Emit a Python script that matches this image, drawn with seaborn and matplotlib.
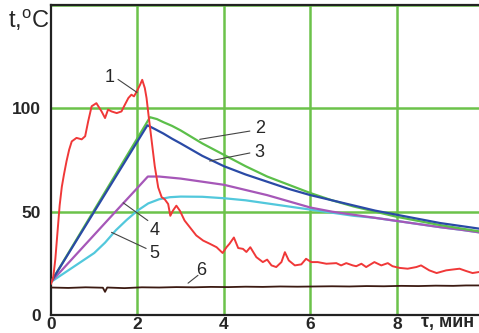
#!/usr/bin/env python

import pandas as pd
import matplotlib
matplotlib.use("Agg")
import matplotlib.pyplot as plt
import seaborn as sns

# curve 1: red, measured (noisy)
t1 = [0, 0.05, 0.1, 0.15, 0.2, 0.25, 0.3, 0.36, 0.42, 0.48, 0.59, 0.71, 0.79, 0.86, 0.94,
      1.05, 1.17, 1.25, 1.32, 1.40, 1.52, 1.63, 1.71, 1.79, 1.86, 1.92, 1.98, 2.06, 2.11,
      2.17, 2.21, 2.26, 2.33, 2.40, 2.48, 2.56, 2.63, 2.71, 2.76, 2.82, 2.90, 2.98, 3.09,
      3.21, 3.36, 3.52, 3.67, 3.83, 3.97, 4.06, 4.13, 4.23, 4.33, 4.44, 4.52, 4.61, 4.75,
      4.90, 5.0, 5.10, 5.21, 5.33, 5.41, 5.50, 5.64, 5.79, 5.90, 6.02, 6.17, 6.37, 6.6,
      6.71, 6.83, 6.98, 7.06, 7.18, 7.29, 7.48, 7.64, 7.79, 7.9, 8.06, 8.25, 8.45, 8.56,
      8.75, 8.92, 9.14, 9.29, 9.45, 9.6, 9.75, 9.9]
T1 = [15, 18, 27, 40, 53, 62, 68, 74.5, 80, 84, 85.7, 85, 86.5, 93.7, 101,
      102.5, 98.5, 95.3, 99.4, 98.5, 97.7, 98.5, 101.8, 105, 106.6, 105.8, 108, 111.4, 113.8,
      109.8, 105, 96, 84, 72, 61.7, 57, 56, 53.7, 48, 50.5, 52.9, 50.5, 45.7,
      42.5, 38.5, 36, 34.5, 32.8, 30, 32.8, 34.5, 37.5, 32.4, 32, 30.5, 32.8, 28,
      25.6, 26.8, 24, 23.2, 25.6, 30.4, 26.4, 24, 24.5, 27.2, 25.6, 25.6, 24.8, 25.1,
      24, 25.1, 24, 23.6, 24.8, 23.2, 25.6, 24, 25.1, 23.6, 22.8, 22.4, 23.2, 24,
      21.6, 20.3, 21.6, 22, 22.4, 21.3, 20.3, 20.8]

# curves 2..5: calculated
tc = [0, 0.5, 1.0, 1.5, 2.0, 2.29, 2.45, 2.6, 2.8, 3.0, 3.5, 4.0, 4.5, 5.0, 5.5, 6.0, 6.5,
      7.0, 7.5, 8.0, 8.5, 9.0, 9.5, 9.9]
T2 = [16, 33.4, 50.8, 68.2, 85.6, 95.7, 94.8, 93.3, 91.5, 89.3, 83, 77.5, 72, 67, 63, 59, 55.5,
      52.5, 50, 47.5, 45.5, 43.5, 41.8, 40.5]
t3 = [0, 0.5, 1.0, 1.5, 2.0, 2.23, 2.4, 2.6, 2.8, 3.0, 3.5, 4.0, 4.5, 5.0, 5.5, 6.0, 6.5,
      7.0, 7.5, 8.0, 8.5, 9.0, 9.5, 9.9]
T3 = [16, 33, 50, 67, 84, 91.8, 90, 87.8, 85.3, 83, 77, 72, 68, 64.5, 61, 58, 55.5,
      53, 50.5, 48.5, 46.5, 44.5, 43, 41.8]
t4 = [0, 0.5, 1.0, 1.5, 2.0, 2.24, 2.5, 3.0, 3.5, 4.0, 4.5, 5.0, 5.5, 6.0, 6.5,
      7.0, 7.5, 8.0, 8.5, 9.0, 9.5, 9.9]
T4 = [16, 27.4, 38.8, 50.2, 61.5, 67, 67, 66, 64.5, 63, 60.5, 58, 55, 52, 50,
      48.5, 47, 45.5, 44, 42.5, 41.2, 40]
t5 = [0, 0.25, 0.5, 0.75, 1.0, 1.25, 1.5, 1.75, 2.0, 2.25, 2.5, 2.75, 3.0, 3.5, 4.0,
      4.5, 5.0, 5.5, 6.0, 6.5, 7.0, 7.5, 8.0, 8.5, 9.0, 9.5, 9.9]
T5 = [16, 19.5, 23, 26.5, 30, 35, 41, 46, 50.5, 54, 56, 57, 57.3, 57.2, 56.5,
      55.5, 54, 52.5, 51, 49.5, 48, 47, 45.5, 44, 42.5, 41.2, 40]

# curve 6: ambient
t6 = [0, 0.4, 0.8, 1.2, 1.25, 1.3, 1.7, 2.1, 2.5, 2.9, 3.3, 3.7, 4.1, 4.5, 4.9,
      5.3, 5.7, 6.1, 6.5, 6.9, 7.3, 7.7, 8.1, 8.5, 8.9, 9.3, 9.6, 9.9]
T6 = [13.3, 13.1, 13.4, 13.2, 11.2, 13.3, 13.0, 13.4, 13.3, 13.5, 13.4, 13.6, 13.5, 13.7, 13.6,
      13.8, 13.7, 13.8, 13.9, 13.8, 14.0, 13.9, 14.1, 14.0, 14.2, 14.1, 14.3, 14.3]

sns.set_style("white")
plt.rcParams['font.family'] = ['Liberation Sans', 'DejaVu Sans']
plt.rcParams['mathtext.fontset'] = 'custom'
plt.rcParams['mathtext.rm'] = 'Liberation Sans'

fig = plt.figure(figsize=(4.79, 3.33), dpi=100)
ax = fig.add_axes([51/479, 18/333, 428/479, 310/333])

grid = '#6cc24a'
for x in (2, 4, 6, 8):
    ax.axvline(x, color=grid, lw=1.8, zorder=1)
for y in (50, 100, 150):
    ax.axhline(y, color=grid, lw=1.8, zorder=1)

series = [
    (t6, T6, '#3b1a12', 1.3),
    (t5, T5, '#52c8dc', 1.6),
    (t4, T4, '#a657b8', 1.6),
    (tc, T2, '#5cbf4a', 1.6),
    (t3, T3, '#2a4aa6', 1.6),
    (t1, T1, '#f03838', 1.4),
]
for t, T, c, lw in series:
    df = pd.DataFrame({'t': t, 'T': T})
    sns.lineplot(data=df, x='t', y='T', color=c, lw=lw, sort=False,
                 estimator=None, ax=ax, zorder=3)

# curve labels with leader lines
labels = [
    ('1', (1.99, 107.7), (1.55, 114), (1.36, 115)),
    ('2', (3.44, 85), (4.6, 89), (4.83, 90)),
    ('3', (3.67, 74.5), (4.6, 78.4), (4.83, 78.4)),
    ('4', (1.67, 54.3), (2.24, 45.7), (2.4, 41)),
    ('5', (1.4, 40), (2.2, 32.2), (2.4, 29.8)),
    ('6', (3.17, 15.4), (3.4, 19.2), (3.48, 21.6)),
]
for txt, p0, p1, pt in labels:
    ax.plot([p0[0], p1[0]], [p0[1], p1[1]], color='#444444', lw=0.8, zorder=4)
    ax.text(pt[0], pt[1], txt, fontsize=13, ha='center', va='center', zorder=5)

ax.set_xlim(0, 9.9)
ax.set_ylim(0, 150)
ax.set_xticks([0, 2, 4, 6, 8])
ax.set_yticks([0, 50, 100])
ax.tick_params(length=0, labelsize=12.5)
ax.tick_params(axis='x', pad=1.5)
ax.tick_params(axis='y', pad=7)
for lab in ax.get_xticklabels() + ax.get_yticklabels():
    lab.set_fontweight('bold')
ax.set_xlabel('')
ax.set_ylabel('')
for s in ('left', 'bottom', 'top'):
    ax.spines[s].set_color('#222222')
    ax.spines[s].set_linewidth(1.6)
ax.spines['right'].set_visible(False)

fig.text(8/479, 1 - 20/333, r't,$^{\mathrm{o}}$C', fontsize=17, va='center', ha='left')
fig.text(421/479, 1 - 323/333, 'τ, мин', fontsize=13, fontweight='bold',
         va='center', ha='left')

fig.savefig('out.png', dpi=100)
